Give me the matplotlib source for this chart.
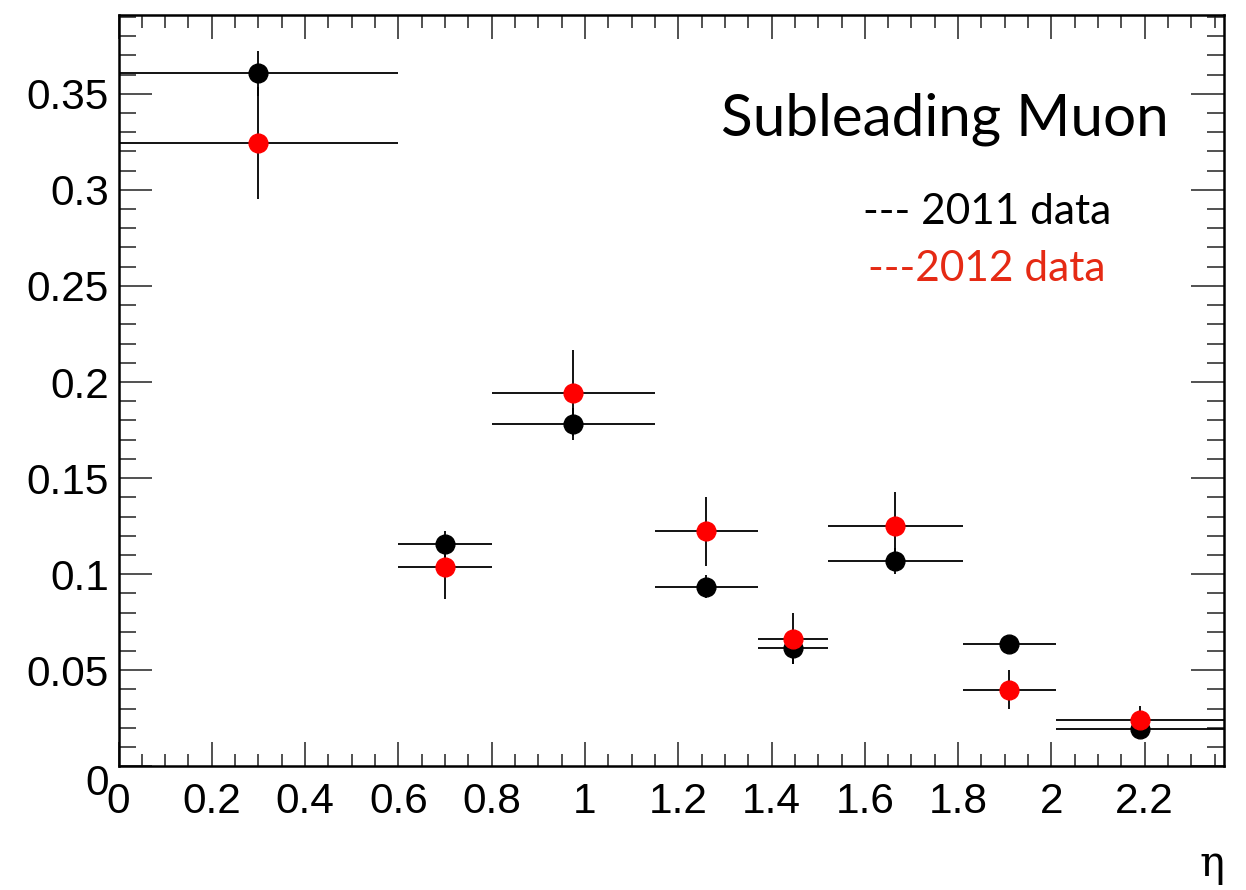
import matplotlib
matplotlib.use('Agg')
import matplotlib.pyplot as plt
import numpy as np
from matplotlib.ticker import MultipleLocator, FixedLocator
import matplotlib.transforms as mtransforms

# ---- data ----
bin_edges = [0.0, 0.6, 0.8, 1.15, 1.37, 1.52, 1.81, 2.01, 2.37]
eff_2011 = [0.3606, 0.1156, 0.1781, 0.0935, 0.0616, 0.1068, 0.0637, 0.0194]
err_2011 = [0.0115, 0.0066, 0.0082, 0.0060, 0.0083, 0.0066, 0.0030, 0.0030]
eff_2012 = [0.3245, 0.1036, 0.1943, 0.1224, 0.0665, 0.1250, 0.0398, 0.0241]
err_2012 = [0.0292, 0.0165, 0.0225, 0.0180, 0.0132, 0.0180, 0.0102, 0.0075]
x_ticks = [0, 0.2, 0.4, 0.6, 0.8, 1, 1.2, 1.4, 1.6, 1.8, 2, 2.2]
x_ticklabels = ['0', '0.2', '0.4', '0.6', '0.8', '1', '1.2', '1.4', '1.6', '1.8', '2', '2.2']
y_ticks = [0, 0.05, 0.1, 0.15, 0.2, 0.25, 0.3, 0.35]
y_ticklabels = ['0', '0.05', '0.1', '0.15', '0.2', '0.25', '0.3', '0.35']
title_text = 'Subleading Muon'
label_2011 = '--- 2011 data'
label_2012 = '---2012 data'
x_label = 'η'

W, H = 1246, 890
fig = plt.figure(figsize=(W / 100, H / 100), dpi=100)
L, R, T, B = 118.5, 1224, 15, 766.3
ax = fig.add_axes([L / W, 1 - B / H, (R - L) / W, (B - T) / H])

edges = np.array(bin_edges)
centers = 0.5 * (edges[:-1] + edges[1:])
halfw = 0.5 * (edges[1:] - edges[:-1])

ax.errorbar(centers, eff_2011, xerr=halfw, yerr=err_2011, fmt='o', color='black',
            mfc='black', mec='black', ms=13.5, elinewidth=1.3, capsize=0, zorder=3)
ax.errorbar(centers, eff_2012, xerr=halfw, yerr=err_2012, fmt='o', color='black',
            mfc='#ff0000', mec='#ff0000', ecolor='black', ms=13.5, elinewidth=1.3,
            capsize=0, zorder=4)

ax.set_xlim(0, 2.37)
ax.set_ylim(0, 0.391)

tickfont = 'Liberation Sans'
ax.xaxis.set_major_locator(FixedLocator(x_ticks))
ax.set_xticklabels(x_ticklabels, fontfamily=tickfont, fontsize=30.5)
ax.xaxis.set_minor_locator(MultipleLocator(0.05))
ax.yaxis.set_major_locator(FixedLocator(y_ticks))
ax.set_yticklabels(y_ticklabels, fontfamily=tickfont, fontsize=30.5)
ax.yaxis.set_minor_locator(MultipleLocator(0.01))

ax.tick_params(axis='both', which='both', direction='in', top=True, right=True,
               width=1.1, color='#222222')
ax.tick_params(axis='x', which='major', length=17, pad=11)
ax.tick_params(axis='x', which='minor', length=9)
ax.tick_params(axis='y', which='major', length=24, pad=7)
ax.tick_params(axis='y', which='minor', length=12)
for s in ax.spines.values():
    s.set_linewidth(1.8)

# shift the y "0" label down like ROOT does
lbl0 = ax.get_yticklabels()[0]
lbl0.set_transform(lbl0.get_transform() + mtransforms.ScaledTranslation(0, -13 / 100, fig.dpi_scale_trans))

fig.text(1169 / W, 1 - 135 / H, title_text, ha='right', va='baseline',
         fontfamily='Lato', fontsize=42, color='black')
fig.text(1111 / W, 1 - 224 / H, label_2011, ha='right', va='baseline',
         fontfamily='Lato', fontsize=30.5, color='black')
fig.text(1105 / W, 1 - 281 / H, label_2012, ha='right', va='baseline',
         fontfamily='Lato', fontsize=30.5, color='#e52a14')
fig.text(1224 / W, 1 - 876 / H, x_label, ha='right', va='baseline',
         fontfamily='DejaVu Serif', fontsize=30, color='black')

fig.savefig('out.png', dpi=100, facecolor='white')
